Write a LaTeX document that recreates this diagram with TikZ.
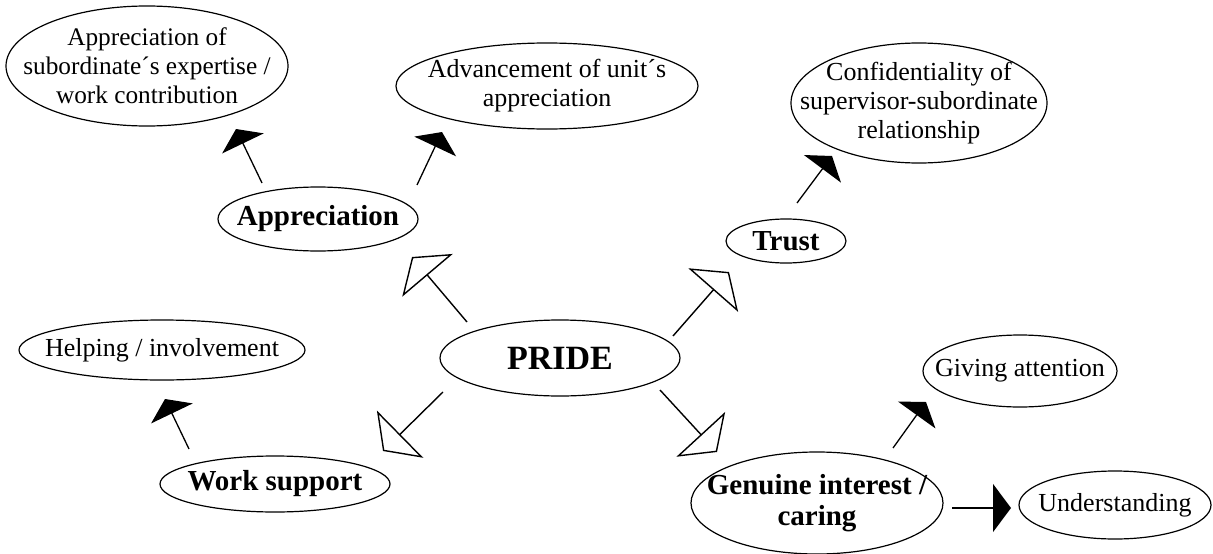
\documentclass[tikz,border=0pt]{standalone}
\usepackage{fontspec}
\setmainfont{Liberation Serif}
\usetikzlibrary{arrows.meta}
\begin{document}
\begin{tikzpicture}[x=1pt,y=-1pt,
  txt/.style={inner sep=0pt, align=center},
  reg/.style={font=\fontsize{26}{29}\selectfont},
  bld/.style={font=\fontsize{29}{31}\selectfont\bfseries},
  ellline/.style={line width=1.2pt},
  openarr/.style={line width=1.4pt, -{Triangle[open, length=24pt, width=66pt, line width=1.4pt]}},
  blackarr/.style={line width=1.3pt, -{Triangle[length=16pt, width=46pt]}},
]
\useasboundingbox (0,0) rectangle (1213,554);
% nodes (text) and their ellipses
\node[txt, font=\fontsize{25.3}{29}\selectfont] (expert) at (147,66) {Appreciation of\\subordinate´s expertise /\\work contribution};
\draw[ellline] (expert.center) ellipse [x radius=141pt, y radius=60pt];
\node[txt, reg] (advance) at (547,86) {Advancement of unit´s\\appreciation};
\draw[ellline] (advance.center) ellipse [x radius=151pt, y radius=43pt];
\node[txt, reg] (confid) at (919,103) {Confidentiality of\\supervisor-subordinate\\relationship};
\draw[ellline] (confid.center) ellipse [x radius=128pt, y radius=60pt];
\node[txt, bld] (apprec) at (318,219) {Appreciation};
\draw[ellline] (apprec.center) ellipse [x radius=100pt, y radius=32pt];
\node[txt, bld] (trust) at (786,241) {Trust};
\draw[ellline] (trust.center) ellipse [x radius=60pt, y radius=22pt];
\node[txt, reg] (helping) at (162,350) {Helping / involvement};
\draw[ellline] (helping.center) ellipse [x radius=143pt, y radius=30pt];
\node[txt, font=\fontsize{34}{40}\selectfont\bfseries] (pride) at (560,358) {PRIDE};
\draw[ellline] (pride.center) ellipse [x radius=120pt, y radius=38pt];
\node[txt, reg] (giving) at (1020,371) {Giving attention};
\draw[ellline] (giving.center) ellipse [x radius=97pt, y radius=36pt];
\node[txt, bld] (worksup) at (275,484) {Work support};
\draw[ellline] (worksup.center) ellipse [x radius=115pt, y radius=28pt];
\node[txt, bld] (genuine) at (817,503) {Genuine interest /\\caring};
\draw[ellline] (genuine.center) ellipse [x radius=126pt, y radius=51pt];
\node[txt, reg] (underst) at (1115,505) {Understanding};
\draw[ellline] (underst.center) ellipse [x radius=96pt, y radius=34pt];
% arrow end points
\coordinate (p1s) at (467,322); \coordinate (p1e) at (412,257);
\coordinate (p2s) at (673,336); \coordinate (p2e) at (729,272);
\coordinate (p3s) at (443,392); \coordinate (p3e) at (383,451);
\coordinate (p4s) at (660,390); \coordinate (p4e) at (717,452);
\coordinate (a1s) at (262,183); \coordinate (a1e) at (236,129);
\coordinate (a2s) at (417,185); \coordinate (a2e) at (442,132);
\coordinate (t1s) at (797,203); \coordinate (t1e) at (832,156);
\coordinate (g1s) at (893,448); \coordinate (g1e) at (926,402);
\coordinate (g2s) at (952,508); \coordinate (g2e) at (1011,508);
\coordinate (w1s) at (189,449); \coordinate (w1e) at (165,399);
% arrows
\draw[openarr] (p1s) -- (p1e);
\draw[openarr] (p2s) -- (p2e);
\draw[openarr] (p3s) -- (p3e);
\draw[openarr] (p4s) -- (p4e);
\draw[blackarr] (a1s) -- (a1e);
\draw[blackarr] (a2s) -- (a2e);
\draw[blackarr] (t1s) -- (t1e);
\draw[blackarr] (g1s) -- (g1e);
\draw[blackarr, -{Triangle[length=18pt, width=48pt]}] (g2s) -- (g2e);
\draw[blackarr] (w1s) -- (w1e);
\end{tikzpicture}
\end{document}
